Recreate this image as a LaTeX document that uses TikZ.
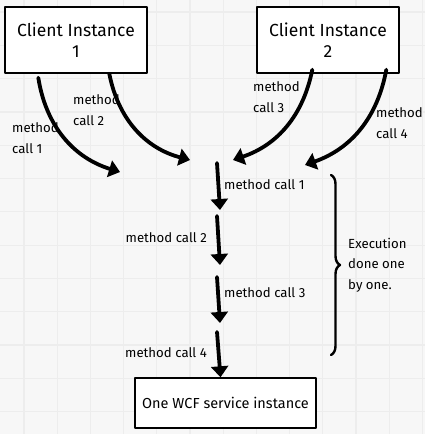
\documentclass[tikz,border=0pt]{standalone}
\usepackage{fontspec}
\setmainfont{Fira Sans}
\usetikzlibrary{arrows.meta,decorations.pathreplacing}
\begin{document}
\begin{tikzpicture}[x=1pt, y=-1pt, font=\fontsize{13.2}{20.5}\selectfont, line join=round, line cap=round, >={Triangle[length=11pt,width=17pt]},
		box/.style={draw, line width=1.4pt, fill=white, align=center},
		call/.style={->, line width=3.8pt},
		txt/.style={align=left, inner sep=0pt}]
				\fill[black!3] (0,0) rectangle (425,434);
				\useasboundingbox (0,0) rectangle (425,434);
				\foreach \i in {0,...,12} \draw[black!7, line width=1.2pt] (24+33.2*\i,0)--(24+33.2*\i,434);
				\foreach \j in {0,...,12} \draw[black!7, line width=1.2pt] (0,12+33.3*\j)--(425,12+33.3*\j);
				\node[box, minimum width=142, minimum height=66, font=\fontsize{17.5}{21}\selectfont] (client1) at (76,40) {Client Instance\\1};
				\node[box, minimum width=142, minimum height=66, font=\fontsize{17.5}{21}\selectfont] (client2) at (328,40) {Client Instance\\2};
				\node[box, minimum width=181, minimum height=50, font=\fontsize{14.5}{17}\selectfont] (wcf) at (225.5,403) {One WCF service instance};
				\coordinate (in1) at (120,172);
				\coordinate (in2) at (190,160);
				\coordinate (in3) at (233,160);
				\coordinate (in4) at (305,165);
				\draw[call] ([shift={(34,4)}]client1.south west) to[bend right=32] (in1);
				\draw[call] ([shift={(105,0)}]client1.south west) to[bend right=32] (in2);
				\draw[call] ([shift={(56,-4)}]client2.south west) to[bend left=30] (in3);
				\draw[call] ([shift={(130,-4)}]client2.south west) to[bend left=30] (in4);
				\node[txt, anchor=west] (m1) at (12,138) {method\\call 1};
				\node[txt, anchor=west] (m2) at (73,110) {method\\call 2};
				\node[txt, anchor=west] (m3) at (253,97) {method\\call 3};
				\node[txt, anchor=west] (m4) at (376,123) {method\\call 4};
				\foreach \a/\b/\n in {163/210/1, 216/265/2, 277/323/3} {
					\coordinate (from\n) at (217,\a);
					\coordinate (to\n) at (220,\b);
					\draw[call] (from\n)--(to\n);
				}
				\coordinate (from4) at (217,332);
				\draw[call] (from4)--([xshift=-5]wcf.north);
				\node[txt, anchor=west] (q1) at (224,185) {method call 1};
				\node[txt, anchor=east] (q2) at (207,238) {method call 2};
				\node[txt, anchor=west] (q3) at (224,293) {method call 3};
				\node[txt, anchor=east] (q4) at (207,353) {method call 4};
				\draw[line width=2.4pt, decorate, decoration={brace, amplitude=9pt}] (331,175)--(331,355);
				\node[txt, anchor=west] (note) at (348,265) {Execution\\done one\\by one.};
			\end{tikzpicture}
\end{document}
